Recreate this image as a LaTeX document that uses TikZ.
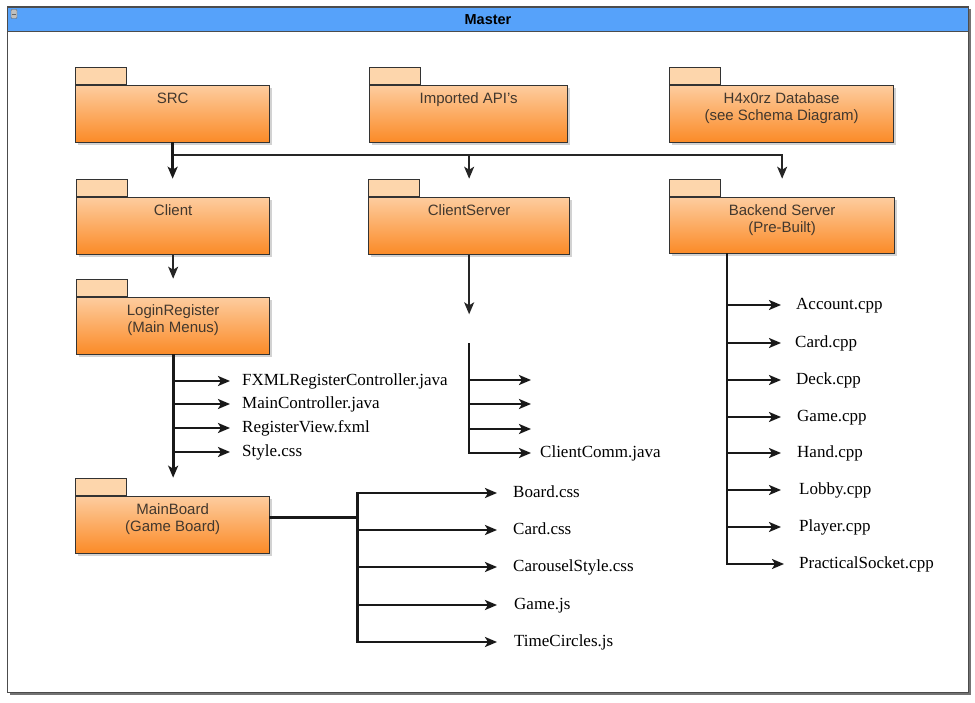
\documentclass[tikz,border=0pt]{standalone}
\usepackage{fontspec}
\setmainfont{Liberation Serif}
\setsansfont{Liberation Sans}
\usetikzlibrary{arrows.meta,shadows}

\definecolor{masterblue}{RGB}{86,162,250}
\definecolor{pkgtop}{RGB}{253,204,158}
\definecolor{pkgbot}{RGB}{251,138,38}
\definecolor{pkgtabfill}{RGB}{253,214,172}
\definecolor{pkgtext}{RGB}{66,56,46}

\tikzset{
  pkgbody/.style={draw=black!80, line width=1.3pt, top color=pkgtop, bottom color=pkgbot,
    anchor=north west, inner sep=0pt, minimum height=57pt,
    drop shadow={shadow xshift=2.5pt, shadow yshift=-2.5pt, fill=black!35}},
  pkgtab/.style={draw=black!80, line width=1.3pt, fill=pkgtabfill, anchor=south west,
    inner sep=0pt, minimum width=51pt, minimum height=17pt},
  pkglabel/.style={anchor=north, inner sep=0pt, align=center, text=pkgtext,
    font=\sffamily\fontsize{15}{17}\selectfont},
  file/.style={anchor=west, inner sep=0pt, text height=10pt, text depth=1pt,
    font=\fontsize{17}{20}\selectfont},
  tip/.style={-{Stealth[length=12pt,width=10pt,inset=3pt]}},
  heavy/.style={draw=black!90, line width=3pt, line cap=rect},
  branch/.style={draw=black!90, line width=2.4pt, line cap=rect},
  light/.style={draw=black!85, line width=1.6pt}
}

\begin{document}
\begin{tikzpicture}[x=1pt, y=-1pt]
        \useasboundingbox (0,0) rectangle (975,703);

        % Master frame
        \fill[black!55] (9.5,9.5) rectangle (970.5,694.5);
        \draw[black!70, line width=1pt, fill=white] (7,7) rectangle (968,692);
        \node[draw=black!70, line width=1pt, fill=masterblue, anchor=north west, minimum width=961pt,
          minimum height=24pt, inner sep=0pt, font=\sffamily\bfseries\fontsize{14.5}{16}\selectfont] (master) at (7,7) {Master};
        \node[draw=black!60, fill=black!25, rounded corners=1pt, minimum width=6pt, minimum height=9pt,
          inner sep=0pt] (master-icon) at (14,14) {};
        \draw[black!60, line width=0.8pt] ([xshift=1pt]master-icon.west) -- ([xshift=-1pt]master-icon.east);

        % Top row packages
        \node[pkgbody, minimum width=194pt] (src) at (75,85) {};
        \node[pkgtab] (src-tab) at (src.north west) {};
        \node[pkglabel] (src-lbl) at ([yshift=-7.5pt]src.north) {SRC};

        \node[pkgbody, minimum width=198pt] (api) at (369,85) {};
        \node[pkgtab] (api-tab) at (api.north west) {};
        \node[pkglabel] (api-lbl) at ([yshift=-7.5pt]api.north) {Imported API's};

        \node[pkgbody, minimum width=224pt] (db) at (669,85) {};
        \node[pkgtab] (db-tab) at (db.north west) {};
        \node[pkglabel] (db-lbl) at ([yshift=-7.5pt]db.north) {H4x0rz Database\\(see Schema Diagram)};

        % Second row packages
        \node[pkgbody, minimum width=193pt] (client) at (76,197) {};
        \node[pkgtab] (client-tab) at (client.north west) {};
        \node[pkglabel] (client-lbl) at ([yshift=-7.5pt]client.north) {Client};

        \node[pkgbody, minimum width=201pt] (cserver) at (368,197) {};
        \node[pkgtab] (cserver-tab) at (cserver.north west) {};
        \node[pkglabel] (cserver-lbl) at ([yshift=-7.5pt]cserver.north) {ClientServer};

        \node[pkgbody, minimum width=225pt, minimum height=56pt] (backend) at (669,197) {};
        \node[pkgtab] (backend-tab) at (backend.north west) {};
        \node[pkglabel] (backend-lbl) at ([yshift=-7.5pt]backend.north) {Backend Server\\(Pre-Built)};

        % Client sub packages
        \node[pkgbody, minimum width=193pt] (login) at (76,297) {};
        \node[pkgtab] (login-tab) at (login.north west) {};
        \node[pkglabel] (login-lbl) at ([yshift=-7.5pt]login.north) {LoginRegister\\(Main Menus)};

        \node[pkgbody, minimum width=194pt] (mainb) at (75,496) {};
        \node[pkgtab] (mainb-tab) at (mainb.north west) {};
        \node[pkglabel] (mainb-lbl) at ([yshift=-7.5pt]mainb.north) {MainBoard\\(Game Board)};

        % Files
        \node[file] (fxml) at (242,381) {FXMLRegisterController.java};
        \node[file] (mainc) at (242,404) {MainController.java};
        \node[file] (regview) at (242,428) {RegisterView.fxml};
        \node[file] (style) at (242,452) {Style.css};

        \node[file] (clientcomm) at (540,453) {ClientComm.java};

        \node[file] (account) at (796,305) {Account.cpp};
        \node[file] (cardcpp) at (795,343) {Card.cpp};
        \node[file] (deck) at (796,380) {Deck.cpp};
        \node[file] (gamecpp) at (797,417) {Game.cpp};
        \node[file] (hand) at (797,453) {Hand.cpp};
        \node[file] (lobby) at (799,490) {Lobby.cpp};
        \node[file] (player) at (799,527) {Player.cpp};
        \node[file] (socket) at (799,564) {PracticalSocket.cpp};

        \node[file] (boardcss) at (513,493) {Board.css};
        \node[file] (cardcss) at (513,530) {Card.css};
        \node[file] (carousel) at (513,567) {CarouselStyle.css};
        \node[file] (gamejs) at (514,605) {Game.js};
        \node[file] (timecircles) at (514,642) {TimeCircles.js};

        % SRC to second row
        \coordinate (src-bus) at ([yshift=-12pt]src.south);
        \draw[light, tip] (src-bus) -| (backend.north |- backend-tab.north);
        \draw[light, tip] (src-bus -| cserver.north) -- (cserver.north |- cserver-tab.north);
        \draw[heavy, tip] (src.south) -- (src.south |- client-tab.north);

        % Client to LoginRegister to MainBoard
        \draw[light, tip] (client.south) -- (client.south |- login-tab.north);
        \draw[heavy, tip] (login.south) -- (login.south |- mainb-tab.north);
        \draw[branch, tip, shorten >=12pt] (login.south |- fxml.west) -- (fxml.west);
        \draw[branch, tip, shorten >=12pt] (login.south |- mainc.west) -- (mainc.west);
        \draw[branch, tip, shorten >=12pt] (login.south |- regview.west) -- (regview.west);
        \draw[branch, tip, shorten >=12pt] (login.south |- style.west) -- (style.west);

        % ClientServer
        \coordinate (cs-stop) at ([yshift=-59pt]cserver.south);
        \coordinate (cs-top) at ([yshift=-30pt]cs-stop);
        \coordinate (cs-a) at (531,380);
        \coordinate (cs-b) at (531,404);
        \coordinate (cs-c) at (531,429);
        \draw[light, tip] (cserver.south) -- (cs-stop);
        \draw[branch, tip, shorten >=9pt] (cs-top) |- (clientcomm.west);
        \draw[branch, tip] (cs-top |- cs-a) -- (cs-a);
        \draw[branch, tip] (cs-top |- cs-b) -- (cs-b);
        \draw[branch, tip] (cs-top |- cs-c) -- (cs-c);

        % Backend Server
        \coordinate (backend-bus) at ([xshift=58pt]backend.south west);
        \draw[branch, tip, shorten >=15pt] (backend-bus) |- (socket.west);
        \draw[branch, tip, shorten >=15pt] (backend-bus |- account.west) -- (account.west);
        \draw[branch, tip, shorten >=14pt] (backend-bus |- cardcpp.west) -- (cardcpp.west);
        \draw[branch, tip, shorten >=15pt] (backend-bus |- deck.west) -- (deck.west);
        \draw[branch, tip, shorten >=16pt] (backend-bus |- gamecpp.west) -- (gamecpp.west);
        \draw[branch, tip, shorten >=16pt] (backend-bus |- hand.west) -- (hand.west);
        \draw[branch, tip, shorten >=18pt] (backend-bus |- lobby.west) -- (lobby.west);
        \draw[branch, tip, shorten >=18pt] (backend-bus |- player.west) -- (player.west);

        % MainBoard
        \coordinate (mainb-out) at ([yshift=8pt]mainb.east);
        \coordinate (mainb-bus) at ([xshift=87pt]mainb-out);
        \draw[heavy] (mainb-out) -- (mainb-bus);
        \draw[branch] (mainb-bus |- boardcss.west) -- (mainb-bus |- timecircles.west);
        \draw[branch, tip, shorten >=16pt] (mainb-bus |- boardcss.west) -- (boardcss.west);
        \draw[branch, tip, shorten >=16pt] (mainb-bus |- cardcss.west) -- (cardcss.west);
        \draw[branch, tip, shorten >=16pt] (mainb-bus |- carousel.west) -- (carousel.west);
        \draw[branch, tip, shorten >=17pt] (mainb-bus |- gamejs.west) -- (gamejs.west);
        \draw[branch, tip, shorten >=17pt] (mainb-bus |- timecircles.west) -- (timecircles.west);
    \end{tikzpicture}
\end{document}
